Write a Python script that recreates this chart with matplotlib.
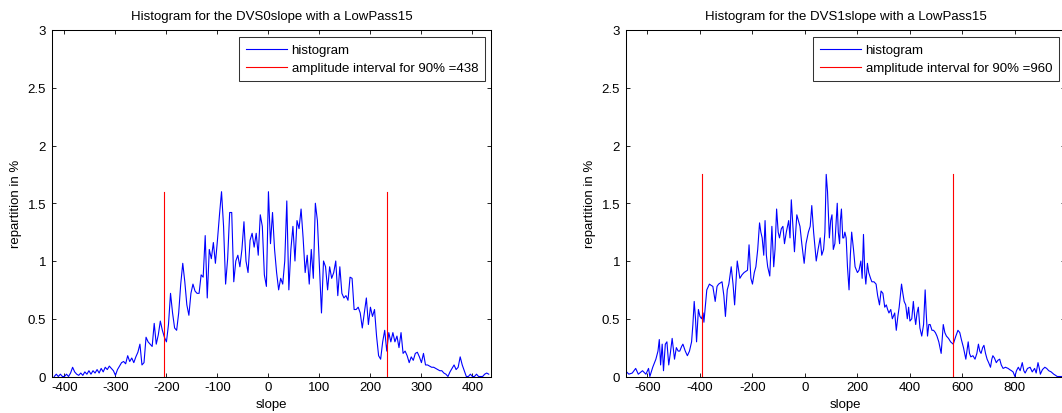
import numpy as np
import matplotlib
matplotlib.use("Agg")
import matplotlib.pyplot as plt

plt.rcParams['font.family'] = ['Liberation Sans', 'DejaVu Sans']

# ---------------- data: DVS0 (left) ----------------
titles = ["Histogram for the DVS0slope with a LowPass15",
          "Histogram for the DVS1slope with a LowPass15"]
legend_hist = "histogram"
legend_int = ["amplitude interval for 90% =438", "amplitude interval for 90% =960"]

slope0_start, slope0_end = -420, 432   # bin centres, step 4
pct0 = [
    0.00, 0.02, 0.00, 0.02, 0.00, 0.00, 0.02, 0.00, 0.03, 0.08,   # -420..-384
    0.04, 0.02, 0.01, 0.03, 0.01, 0.04, 0.02, 0.05, 0.02, 0.05,   # -380..-344
    0.03, 0.06, 0.03, 0.07, 0.04, 0.08, 0.06, 0.09, 0.07, 0.05,   # -340..-304
    0.01, 0.06, 0.09, 0.12, 0.13, 0.11, 0.18, 0.13, 0.16, 0.12,   # -300..-264
    0.17, 0.21, 0.28, 0.10, 0.12, 0.34, 0.30, 0.28, 0.26, 0.46,   # -260..-224
    0.28, 0.36, 0.48, 0.40, 0.34, 0.30, 0.45, 0.72, 0.55, 0.42,   # -220..-184
    0.40, 0.55, 0.80, 0.98, 0.82, 0.62, 0.53, 0.72, 0.80, 0.74,   # -180..-144
    0.72, 0.72, 0.88, 0.86, 1.22, 0.68, 1.10, 1.02, 1.16, 0.98,   # -140..-104
    1.18, 1.40, 1.60, 1.30, 0.80, 1.02, 1.42, 1.42, 0.82, 1.00,   # -100..-64
    1.05, 0.95, 1.10, 1.34, 1.00, 0.90, 1.18, 1.24, 1.12, 1.24,   # -60..-24
    1.05, 1.40, 1.30, 0.88, 0.78, 1.60, 1.15, 1.42, 1.10, 0.90,   # -20..16
    0.75, 0.85, 0.80, 1.00, 1.52, 0.75, 1.10, 1.30, 1.00, 1.35,   # 20..56
    1.28, 1.45, 1.20, 0.90, 1.05, 0.80, 1.10, 0.85, 1.50, 1.35,   # 60..96
    0.95, 0.55, 1.00, 0.95, 0.75, 0.95, 0.85, 0.90, 1.00, 0.70,   # 100..136
    0.95, 0.72, 0.68, 0.70, 0.66, 0.86, 0.85, 0.58, 0.58, 0.60,   # 140..176
    0.55, 0.42, 0.55, 0.68, 0.45, 0.60, 0.52, 0.58, 0.35, 0.18,   # 180..216
    0.15, 0.30, 0.40, 0.22, 0.38, 0.30, 0.38, 0.30, 0.35, 0.25,   # 220..256
    0.38, 0.20, 0.22, 0.18, 0.12, 0.17, 0.14, 0.20, 0.21, 0.17,   # 260..296
    0.12, 0.20, 0.10, 0.10, 0.09, 0.08, 0.08, 0.07, 0.06, 0.05,   # 300..336
    0.05, 0.03, 0.02, 0.00, 0.04, 0.07, 0.10, 0.06, 0.08, 0.17,   # 340..376
    0.10, 0.05, 0.00, 0.00, 0.02, 0.00, 0.00, 0.02, 0.00, 0.00,   # 380..416
    0.00, 0.02, 0.03, 0.02,                                       # 420..432
]
interval0 = [-205, 233]
xlim0 = [-425, 437]
xticks0 = [-400, -300, -200, -100, 0, 100, 200, 300, 400]

# ---------------- data: DVS1 (right) ----------------
slope1 = [-684, -671, -658, -645, -635, -619, -606, -596, -591, -580,
          -568, -560, -555, -550, -544, -539, -532, -526, -519, -513,
          -506, -497, -490, -483, -477, -470, -465, -456, -448, -440,
          -432, -427, -422, -417, -413, -406, -400, -394, -388, -385,
          -380, -374, -364, -358, -351, -342, -335, -329, -316, -309,
          -303, -296, -290, -281, -274, -268, -258, -248, -240, -232,
          -219, -213, -206, -200, -193, -187, -180, -173, -168, -163,
          -157, -152, -147, -142, -134, -126, -119, -114, -108, -102,
          -97, -90, -84, -78, -71, -62, -57, -52, -46, -40,
          -35, -31, -25, -19, -12, -3, 4, 13, 20, 26,
          33, 43, 50, 58, 64, 71, 76, 81, 86, 93,
          98, 103, 108, 114, 118, 123, 127, 132, 135, 139,
          144, 148, 152, 157, 162, 168, 173, 178, 185, 191,
          200, 206, 213, 218, 223, 228, 232, 238, 243, 250,
          255, 263, 271, 277, 284, 290, 297, 304, 310, 315,
          320, 327, 333, 342, 348, 354, 359, 368, 373, 378,
          384, 390, 395, 400, 407, 413, 418, 422, 427, 432,
          438, 445, 452, 458, 462, 467, 472, 477, 484, 490,
          497, 503, 510, 519, 527, 533, 539, 547, 555, 565,
          575, 583, 590, 596, 604, 613, 622, 627, 632, 640,
          648, 655, 661, 666, 671, 677, 682, 688, 694, 700,
          707, 712, 716, 722, 729, 735, 742, 748, 755, 764,
          774, 780, 787, 793, 800, 806, 813, 820, 828, 834,
          839, 848, 858, 866, 875, 881, 888, 893, 897, 905,
          914, 921, 929, 938, 948, 955, 961, 974, 985]
pct1 = [0.05, 0.02, 0.03, 0.07, 0.02, 0.05, 0.02, 0.07, 0.00, 0.08,
        0.15, 0.22, 0.32, 0.10, 0.28, 0.05, 0.28, 0.30, 0.10, 0.20,
        0.33, 0.15, 0.25, 0.22, 0.22, 0.26, 0.28, 0.22, 0.18, 0.22,
        0.30, 0.45, 0.65, 0.50, 0.30, 0.58, 0.52, 0.50, 0.55, 0.47,
        0.60, 0.75, 0.80, 0.79, 0.78, 0.65, 0.78, 0.80, 0.82, 0.70,
        0.52, 0.75, 0.80, 0.95, 0.80, 0.62, 1.00, 0.85, 0.88, 0.90,
        0.92, 1.14, 0.85, 0.80, 0.90, 0.95, 1.10, 1.33, 1.25, 1.20,
        1.05, 1.35, 1.05, 0.95, 0.87, 1.30, 0.95, 1.10, 1.45, 1.25,
        1.20, 1.28, 1.30, 1.15, 1.25, 1.35, 1.20, 1.53, 1.30, 1.08,
        1.25, 1.40, 1.35, 1.30, 1.15, 0.98, 1.15, 1.25, 1.30, 1.48,
        1.25, 1.00, 1.10, 1.20, 1.05, 1.10, 1.25, 1.75, 1.60, 1.20,
        1.35, 1.40, 1.10, 1.15, 1.30, 1.50, 1.25, 1.15, 1.35, 1.45,
        1.20, 1.20, 1.25, 1.20, 0.95, 0.75, 1.05, 1.25, 1.10, 0.95,
        0.90, 0.92, 1.00, 0.85, 1.23, 0.90, 0.80, 0.98, 0.90, 0.85,
        0.82, 0.82, 0.80, 0.70, 0.62, 0.74, 0.72, 0.60, 0.62, 0.58,
        0.55, 0.58, 0.50, 0.55, 0.40, 0.52, 0.60, 0.80, 0.72, 0.65,
        0.62, 0.50, 0.60, 0.48, 0.50, 0.65, 0.52, 0.45, 0.55, 0.60,
        0.42, 0.35, 0.45, 0.75, 0.55, 0.35, 0.45, 0.45, 0.40, 0.40,
        0.38, 0.35, 0.30, 0.20, 0.45, 0.38, 0.35, 0.33, 0.30, 0.28,
        0.35, 0.40, 0.38, 0.32, 0.25, 0.15, 0.30, 0.20, 0.17, 0.18,
        0.15, 0.20, 0.28, 0.22, 0.20, 0.25, 0.27, 0.20, 0.15, 0.12,
        0.08, 0.15, 0.18, 0.16, 0.12, 0.14, 0.15, 0.10, 0.07, 0.08,
        0.07, 0.06, 0.05, 0.04, 0.00, 0.05, 0.08, 0.05, 0.12, 0.05,
        0.03, 0.07, 0.08, 0.04, 0.07, 0.03, 0.12, 0.07, 0.02, 0.06,
        0.08, 0.07, 0.05, 0.04, 0.02, 0.01, 0.00, 0.00, 0.00]
interval1 = [-392, 566]
xlim1 = [-683, 992]
xticks1 = [-600, -400, -200, 0, 200, 400, 600, 800]

yticks = [0, 0.5, 1, 1.5, 2, 2.5, 3]
ytick_labels = ["0", "0.5", "1", "1.5", "2", "2.5", "3"]
xlabel = "slope"
ylabel = "repartition in %"

# ---------------- figure ----------------
W, H = 1062, 414
fig = plt.figure(figsize=(W / 100, H / 100), dpi=100)
ax_w, ax_h = 439.6 / W, 346.5 / H
ax_b = (H - 377.5) / H
ax0 = fig.add_axes([51.7 / W, ax_b, ax_w, ax_h])
ax1 = fig.add_axes([625.7 / W, ax_b, ax_w, ax_h])

slope0 = np.linspace(slope0_start, slope0_end, len(pct0))
series = [
    (ax0, slope0, pct0, interval0, xlim0, xticks0, titles[0], legend_int[0]),
    (ax1, np.array(slope1), pct1, interval1, xlim1, xticks1, titles[1], legend_int[1]),
]

fs = 9.5
for ax, x, y, itv, xl, xt, ttl, lint in series:
    hmax = max(y)
    ax.plot(x, y, color=(0, 0, 1), lw=0.8, label=legend_hist)
    ax.plot([itv[0], itv[0]], [0, hmax], color=(1, 0, 0), lw=0.8, label=lint)
    ax.plot([itv[1], itv[1]], [0, hmax], color=(1, 0, 0), lw=0.8)
    ax.set_xlim(xl)
    ax.set_ylim(0, 3)
    ax.set_xticks(xt)
    ax.set_xticklabels([str(v) for v in xt])
    ax.set_yticks(yticks)
    ax.set_yticklabels(ytick_labels)
    ax.tick_params(direction='in', length=3.2, width=0.6, top=True, right=True,
                   labelsize=fs, colors='black', pad=3)
    ax.tick_params(axis='y', pad=4)
    for sp in ax.spines.values():
        sp.set_linewidth(0.75)
    ax.set_title(ttl, fontsize=fs, pad=8)
    ax.set_xlabel(xlabel, fontsize=fs, labelpad=4)
    ax.set_ylabel(ylabel, fontsize=fs, labelpad=4)
    leg = ax.legend(loc='upper right', bbox_to_anchor=(1 - 6.6 / 439.6, 1 - 7.3 / 346.5),
                    borderaxespad=0, fontsize=fs, frameon=True, fancybox=False,
                    handlelength=3.1, handletextpad=0.35, borderpad=0.5,
                    labelspacing=0.45)
    leg.get_frame().set_edgecolor('black')
    leg.get_frame().set_linewidth(0.75)

fig.savefig("out.png", dpi=100)
